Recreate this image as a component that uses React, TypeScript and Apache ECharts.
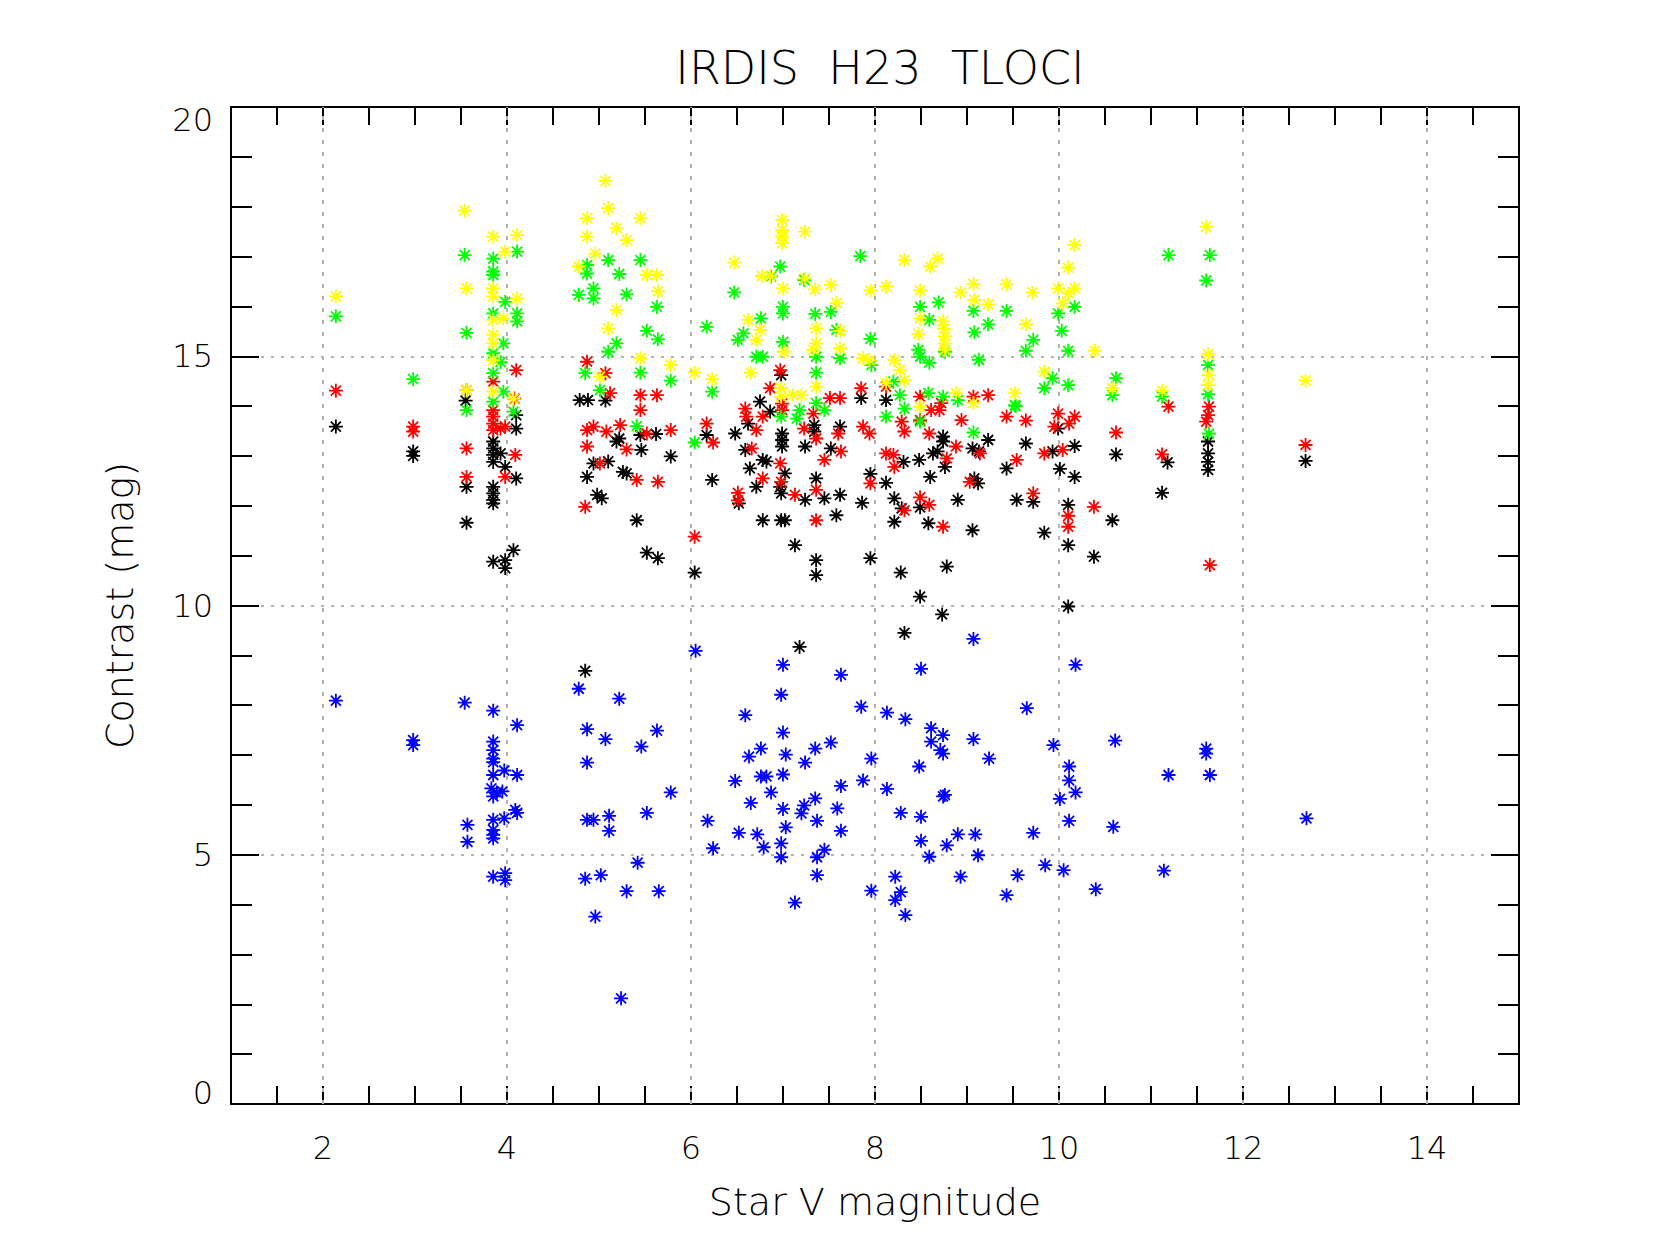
import React, { useEffect, useRef } from "react";
import * as echarts from "echarts";

const TITLE = "IRDIS  H23  TLOCI";
const X_NAME = "Star V magnitude";
const Y_NAME = "Contrast (mag)";
const X_GRID = [2, 4, 6, 8, 10, 12, 14];

const blue: number[][] = [
  [2.14, 8.09], [2.98, 7.3], [2.98, 7.2],
  [3.54, 8.05], [3.85, 7.89], [4.11, 7.6], [3.85, 7.27], [3.85, 7.1], [3.85, 6.93], [3.85, 6.86],
  [3.85, 6.6], [3.97, 6.69], [4.11, 6.6], [3.83, 6.33], [3.89, 6.25], [3.95, 6.27], [3.85, 6.17],
  [4.09, 5.9], [4.11, 5.84], [3.97, 5.73], [3.85, 5.7], [3.57, 5.6], [3.85, 5.5], [3.85, 5.4],
  [3.85, 5.33], [3.57, 5.26], [3.85, 4.56], [3.98, 4.63], [3.98, 4.49],
  [4.78, 8.33], [5.22, 8.13], [4.87, 7.52], [5.07, 7.32], [5.63, 7.49], [5.46, 7.17], [4.87, 6.85],
  [5.78, 6.25], [5.52, 5.84], [4.87, 5.7], [4.94, 5.7], [5.11, 5.78], [5.11, 5.48], [5.42, 4.84],
  [4.85, 4.52], [5.02, 4.59], [5.3, 4.27], [5.65, 4.27], [4.96, 3.76], [5.24, 2.12],
  [6.05, 9.09], [6.18, 5.68], [6.24, 5.13], [7.0, 8.81], [6.98, 8.21], [6.59, 7.8], [7.0, 7.45],
  [6.76, 7.13], [6.63, 6.97], [7.03, 7.01], [6.48, 6.48], [6.76, 6.57], [6.82, 6.57], [7.0, 6.61],
  [6.87, 6.25], [6.65, 6.04], [7.0, 5.92], [7.03, 5.55], [6.52, 5.44], [6.72, 5.41], [6.79, 5.15],
  [6.98, 5.23], [6.98, 4.95], [7.63, 8.61], [7.35, 7.13], [7.52, 7.25], [7.24, 6.85], [7.35, 6.13],
  [7.23, 5.99], [7.2, 5.83], [7.37, 5.68], [7.59, 5.93], [7.63, 6.38], [7.63, 5.48], [7.37, 4.95],
  [7.45, 5.1], [7.37, 4.59], [7.13, 4.04], [7.85, 7.97], [7.96, 6.93], [7.87, 6.49], [7.96, 4.28],
  [8.13, 7.85], [8.33, 7.72], [8.5, 8.73], [9.07, 9.33], [8.48, 6.77], [8.13, 6.32], [8.28, 5.84],
  [8.5, 5.76], [8.61, 7.54], [8.61, 7.27], [8.74, 7.4], [8.71, 7.1], [8.74, 7.03], [9.07, 7.32],
  [9.24, 6.93], [8.76, 6.2], [8.74, 6.17], [8.5, 5.28], [8.78, 5.19], [8.59, 4.96], [8.9, 5.41],
  [9.09, 5.41], [9.12, 4.99], [8.22, 4.56], [8.28, 4.25], [8.22, 4.09], [8.33, 3.79], [8.93, 4.56],
  [9.65, 7.94], [9.94, 7.2], [9.72, 5.44], [9.55, 4.59], [9.43, 4.19], [9.85, 4.79], [10.05, 4.69],
  [10.18, 8.81], [10.11, 6.77], [10.11, 6.49], [10.18, 6.25], [10.01, 6.12], [10.11, 5.68],
  [10.4, 4.31], [10.61, 7.29], [10.59, 5.56], [11.14, 4.68], [11.19, 6.6], [11.6, 7.13],
  [11.6, 7.03], [11.64, 6.6], [12.69, 5.73],
];

const black: number[][] = [
  [2.14, 13.59], [2.98, 13.09], [2.98, 13.0], [3.55, 14.11], [3.56, 12.38], [3.56, 11.66],
  [4.1, 13.82], [4.1, 13.55], [3.85, 13.29], [3.85, 13.15], [3.85, 13.02], [3.93, 13.05],
  [3.85, 12.88], [3.98, 12.78], [4.1, 12.55], [3.85, 12.38], [3.85, 12.25], [3.85, 12.12],
  [3.85, 12.05], [4.07, 11.11], [3.85, 10.88], [3.98, 10.91], [3.98, 10.75],
  [4.79, 14.12], [4.88, 14.12], [5.07, 14.11], [5.19, 13.29], [4.94, 12.85], [5.1, 12.89],
  [4.87, 12.58], [4.98, 12.22], [5.03, 12.15], [4.85, 8.69],
  [5.22, 13.35], [5.45, 13.42], [5.62, 13.44], [5.46, 13.12], [5.78, 12.99], [5.26, 12.68],
  [5.3, 12.65], [5.41, 11.71], [5.52, 11.06], [5.64, 10.95],
  [6.17, 13.42], [6.23, 12.52], [6.04, 10.66], [6.48, 13.45], [6.75, 14.09], [6.62, 13.65],
  [6.86, 13.89], [6.59, 13.12], [6.78, 12.92], [6.82, 12.89], [6.64, 12.75], [6.71, 12.38],
  [6.52, 12.05], [6.78, 11.71],
  [6.98, 14.62], [6.99, 13.45], [6.99, 13.32], [6.99, 13.19], [7.02, 12.65], [6.97, 12.38],
  [6.98, 12.25], [6.98, 11.71], [7.02, 11.71], [7.24, 13.19], [7.34, 13.62], [7.34, 13.49],
  [7.36, 12.55], [7.24, 12.12], [7.45, 12.15], [7.62, 12.22], [7.52, 13.15], [7.62, 13.59],
  [7.58, 11.81], [7.13, 11.21], [7.36, 10.91], [7.36, 10.61], [7.18, 9.17],
  [7.85, 14.16], [7.86, 12.06], [7.95, 12.64], [7.95, 10.95], [8.12, 14.12], [8.12, 12.46],
  [8.31, 12.88], [8.48, 12.92], [8.6, 12.58], [8.21, 12.15], [8.29, 11.95], [8.49, 11.97],
  [8.21, 11.68], [8.58, 11.65], [8.28, 10.66], [8.49, 10.18], [8.73, 9.82], [8.32, 9.45],
  [8.78, 10.78], [8.74, 13.39], [8.74, 13.29], [8.63, 13.05], [8.68, 13.09], [8.76, 12.78],
  [8.9, 12.12],
  [9.06, 13.15], [9.13, 13.09], [9.23, 13.32], [9.08, 12.55], [9.12, 12.45], [9.06, 11.51],
  [9.43, 12.75], [9.64, 13.25], [9.54, 12.12], [9.72, 12.08], [9.84, 11.46], [9.93, 13.09],
  [10.01, 12.74], [9.99, 13.55], [10.17, 13.2], [10.17, 12.58], [10.1, 12.02], [10.1, 11.21],
  [10.38, 10.98], [10.1, 9.98], [10.58, 11.71],
  [10.62, 13.03], [11.18, 12.87], [11.12, 12.26], [11.62, 13.29], [11.62, 13.05], [11.62, 12.88],
  [11.62, 12.72], [12.68, 12.9],
];

const red: number[][] = [
  [2.14, 14.31], [2.98, 13.59], [2.98, 13.49], [3.56, 14.32], [3.56, 13.15], [3.56, 12.58],
  [4.1, 14.72], [3.85, 14.49], [4.08, 14.15], [3.85, 13.92], [3.85, 13.79], [3.85, 13.65],
  [3.85, 13.52], [3.93, 13.55], [3.98, 13.59], [4.09, 13.02], [3.98, 12.58],
  [4.87, 14.89], [5.07, 14.66], [5.12, 14.26], [4.87, 13.52], [4.94, 13.59], [5.08, 13.49],
  [4.87, 13.19], [5.01, 12.85], [4.85, 11.98],
  [5.45, 14.22], [5.63, 14.22], [5.45, 13.92], [5.23, 13.62], [5.52, 13.45], [5.78, 13.52],
  [5.3, 13.13], [5.41, 12.52], [5.64, 12.48],
  [6.17, 13.65], [6.24, 13.27], [6.04, 11.38],
  [6.86, 14.36], [6.59, 13.95], [6.6, 13.79], [6.78, 13.79], [6.71, 13.52], [6.97, 14.72],
  [6.99, 14.05], [6.99, 13.92], [6.66, 13.15], [6.78, 12.55], [6.51, 12.26], [6.51, 12.11],
  [7.23, 13.55], [7.33, 13.85], [7.51, 14.16], [7.62, 14.16], [7.6, 13.45], [6.97, 12.85],
  [6.98, 12.48], [7.13, 12.22], [7.36, 13.35], [7.36, 12.32], [7.45, 12.92], [7.63, 13.09],
  [7.36, 11.71],
  [7.85, 14.36], [7.87, 13.59], [7.94, 13.45], [7.95, 12.45], [8.12, 14.39], [8.29, 13.69],
  [8.32, 13.49], [8.12, 13.05], [8.2, 13.02], [8.21, 12.78], [8.32, 11.91], [8.49, 12.17],
  [8.59, 12.02], [8.74, 11.58], [8.49, 14.19], [8.49, 13.72], [8.61, 13.92], [8.7, 13.92],
  [8.72, 14.06], [8.59, 13.45], [8.88, 13.19], [8.78, 12.95], [8.94, 13.72],
  [9.07, 14.19], [9.23, 14.22], [9.43, 13.79], [9.14, 13.05], [9.03, 12.48], [9.54, 12.92],
  [9.72, 12.25], [9.84, 13.05], [9.95, 13.59], [9.64, 13.71],
  [9.99, 13.85], [10.17, 13.79], [10.11, 13.65], [10.04, 13.12], [10.62, 13.47], [11.12, 13.03],
  [10.1, 11.8], [10.1, 11.58], [10.38, 11.98], [11.19, 13.99], [11.63, 13.99], [11.62, 13.82],
  [11.6, 13.69], [11.64, 10.81], [12.68, 13.22],
];

const green: number[][] = [
  [2.14, 15.8], [2.98, 14.54], [3.54, 17.03], [3.56, 15.47], [3.56, 13.92],
  [3.96, 15.26], [3.93, 14.88], [3.85, 14.66], [3.96, 14.29], [3.85, 14.09], [4.07, 13.89],
  [4.11, 17.1], [3.85, 16.96], [3.85, 16.7], [3.85, 16.63], [3.98, 16.09], [4.11, 15.86],
  [4.11, 15.7], [3.85, 15.86], [3.85, 15.06],
  [4.85, 14.66], [5.01, 14.32], [5.1, 16.93], [4.87, 16.83], [4.87, 16.66], [4.78, 16.23],
  [4.94, 16.36], [4.94, 16.16], [5.1, 15.09], [5.19, 15.26],
  [5.45, 16.93], [5.22, 16.65], [5.3, 16.24], [5.63, 15.99], [5.52, 15.51], [5.64, 15.34],
  [5.45, 14.67], [5.78, 14.51], [5.41, 13.6],
  [6.17, 15.59], [6.23, 14.29], [6.04, 13.27], [6.47, 16.28], [6.76, 15.76], [6.57, 15.46],
  [6.51, 15.33], [6.87, 16.6], [6.97, 16.8], [7.0, 15.99], [7.0, 15.86], [7.0, 15.29],
  [6.71, 14.99], [6.78, 14.99], [7.23, 16.53], [7.35, 15.85], [7.52, 15.89], [7.36, 14.99],
  [7.58, 15.53], [7.62, 14.96], [7.36, 14.67], [6.98, 13.79], [7.18, 13.92], [7.15, 13.75],
  [7.36, 14.06], [7.45, 13.92],
  [7.84, 17.01], [7.95, 15.35], [7.96, 14.82], [8.49, 15.99], [8.69, 16.08], [8.59, 15.73],
  [8.76, 15.09], [8.47, 15.13], [8.49, 14.99], [8.59, 14.87], [9.07, 15.91], [9.08, 15.48],
  [9.23, 15.64], [9.43, 15.91], [9.13, 14.93], [8.2, 14.49], [8.27, 14.22], [8.12, 13.79],
  [8.32, 13.95], [8.58, 14.26], [8.74, 14.19], [8.9, 14.12], [8.49, 13.69], [9.07, 13.47],
  [9.52, 14.02],
  [9.72, 15.33], [9.64, 15.11], [10.17, 15.99], [9.99, 15.86], [10.03, 15.51], [10.1, 15.11],
  [9.93, 14.56], [9.84, 14.36], [10.1, 14.42], [9.53, 14.0], [10.62, 14.56], [10.58, 14.22],
  [11.12, 14.19], [11.19, 17.03], [11.64, 17.03], [11.6, 16.52], [11.62, 14.82], [11.62, 14.24],
  [11.63, 13.45],
];

const yellow: number[][] = [
  [2.14, 16.2], [3.54, 17.92], [3.56, 16.36], [3.56, 14.32],
  [3.85, 17.4], [4.11, 17.43], [3.98, 17.1], [3.85, 16.36], [3.85, 16.2], [4.11, 16.16],
  [3.85, 15.73], [3.96, 15.76], [3.85, 15.43], [3.85, 15.26], [3.85, 14.92], [3.85, 14.29],
  [4.07, 14.15],
  [5.07, 18.52], [4.87, 17.77], [5.1, 17.97], [4.87, 17.4], [4.96, 17.06], [5.19, 17.57],
  [4.78, 16.8], [5.19, 15.93], [5.1, 15.56], [5.01, 14.59],
  [5.3, 17.33], [5.45, 17.77], [5.52, 16.63], [5.63, 16.63], [5.64, 16.3], [5.45, 14.96],
  [5.78, 14.82], [6.04, 14.67], [6.23, 14.54],
  [6.47, 16.88], [6.62, 15.73], [6.75, 15.53], [6.71, 15.33], [6.77, 16.61], [6.86, 16.61],
  [6.99, 17.73], [6.99, 17.53], [6.99, 17.4], [6.99, 17.27], [7.24, 17.5], [7.0, 16.36],
  [7.01, 15.09], [6.65, 14.67], [7.24, 16.56], [7.35, 16.34], [7.52, 16.43], [7.58, 16.07],
  [7.36, 15.56], [7.36, 15.26], [7.33, 15.13], [7.62, 15.51], [7.62, 15.16], [7.36, 14.39],
  [6.98, 14.36], [6.98, 14.19], [7.11, 14.22], [7.2, 14.22],
  [7.95, 16.32], [8.12, 16.4], [7.87, 14.96], [7.94, 14.92], [8.32, 16.93], [8.6, 16.8],
  [8.68, 16.96], [8.49, 16.32], [8.49, 15.76], [8.47, 15.45], [8.74, 15.7], [8.75, 15.55],
  [8.76, 15.4], [8.76, 15.26], [8.76, 15.13], [8.93, 16.28], [9.07, 16.45], [9.08, 16.13],
  [9.23, 16.04], [9.43, 16.44], [8.21, 14.92], [8.27, 14.72], [8.32, 14.52], [8.12, 14.46],
  [8.88, 14.26], [9.07, 14.06], [8.49, 13.99], [9.52, 14.26],
  [9.71, 16.28], [9.64, 15.64], [10.17, 17.23], [10.1, 16.78], [9.99, 16.36], [10.17, 16.36],
  [10.1, 16.26], [10.04, 16.06], [10.39, 15.11], [9.84, 14.69], [10.58, 14.36], [11.12, 14.31],
  [11.6, 17.6], [11.62, 15.04], [11.63, 14.62], [11.62, 14.42], [12.68, 14.51],
];

const FONT = "DejaVu Sans";
const STAR = "path://M7 0L7 14M0 7L14 7M2 2L12 12M2 12L12 2";

function starSeries(name: string, data: number[][], color: string, extra: any = {}) {
  return {
    name,
    type: "scatter",
    data,
    symbol: STAR,
    symbolSize: 14,
    itemStyle: { color, borderColor: color, borderWidth: 1.8, opacity: 1 },
    emphasis: { disabled: true },
    z: 3,
    ...extra,
  };
}

export default function App() {
  const ref = useRef<HTMLDivElement>(null);
  useEffect(() => {
    if (!ref.current) return;
    const chart = echarts.init(ref.current, undefined, { renderer: "svg" });
    const axisLineStyle = { color: "#000", width: 2 };
    const gridStyle = { color: "#b4b4b4", width: 2, type: [4, 8] as any };
    const labelFont = { fontFamily: FONT, fontSize: 32, fontWeight: 200, color: "#000" };
    const xCommon = {
      type: "value",
      min: 1,
      max: 15,
      interval: 0.5,
      axisLine: { show: true, onZero: false, lineStyle: axisLineStyle },
      axisTick: { show: true, inside: true, length: 18, lineStyle: { color: "#000", width: 2 } },
      splitLine: { show: false },
    };
    const yCommon = {
      type: "value",
      min: 0,
      max: 20,
      interval: 5,
      axisLine: { show: true, onZero: false, lineStyle: axisLineStyle },
      axisTick: { show: true, inside: true, length: 28, lineStyle: { color: "#000", width: 2 } },
      minorTick: { show: true, splitNumber: 5, length: 21, lineStyle: { color: "#000", width: 2 } },
    };
    chart.setOption({
      animation: false,
      backgroundColor: "#fff",
      title: {
        text: TITLE,
        left: 875,
        top: 40,
        textAlign: "center",
        textStyle: { fontFamily: FONT, fontSize: 46, fontWeight: 200, color: "#000" },
      },
      grid: { left: 231, top: 107, width: 1288, height: 997, containLabel: false },
      xAxis: [
        {
          ...xCommon,
          position: "bottom",
          name: X_NAME,
          nameLocation: "middle",
          nameGap: 79,
          nameTextStyle: { fontFamily: FONT, fontSize: 38, fontWeight: 200, color: "#000" },
          axisLabel: {
            show: true,
            margin: 28,
            ...labelFont,
            formatter: (v: number) => (Math.abs(v % 2) < 1e-9 ? String(v) : ""),
          },
        },
        { ...xCommon, position: "top", axisLabel: { show: false } },
      ],
      yAxis: [
        {
          ...yCommon,
          position: "left",
          name: Y_NAME,
          nameLocation: "middle",
          nameGap: 92,
          nameRotate: 90,
          nameTextStyle: { fontFamily: FONT, fontSize: 38, fontWeight: 200, color: "#000" },
          axisLabel: {
            show: true,
            margin: 18,
            ...labelFont,
            formatter: (v: number) => (v === 20 ? "{t|20}" : v === 0 ? "{b|0}" : String(v)),
            rich: {
              t: { ...labelFont, padding: [26, 0, 0, 0] },
              b: { ...labelFont, padding: [0, 0, 22, 0] },
            },
          },
          splitLine: { show: true, lineStyle: { color: "#b4b4b4", width: 2, type: [3, 7] } },
        },
        { ...yCommon, position: "right", axisLabel: { show: false }, splitLine: { show: false } },
      ],
      series: [
        starSeries("blue", blue, "#0000ff", {
          markLine: {
            silent: true,
            z: 1,
            symbol: ["none", "none"],
            label: { show: false },
            lineStyle: gridStyle,
            emphasis: { disabled: true },
            data: X_GRID.map((v) => ({ xAxis: v })),
          },
        }),
        starSeries("black", black, "#000000"),
        starSeries("red", red, "#ff0000"),
        starSeries("green", green, "#00ff00"),
        starSeries("yellow", yellow, "#ffff00"),
      ],
    });
    return () => chart.dispose();
  }, []);
  return (
    <div
      ref={ref}
      style={{ position: "absolute", left: 0, top: 0, width: 1664, height: 1258, background: "#fff" }}
    />
  );
}
